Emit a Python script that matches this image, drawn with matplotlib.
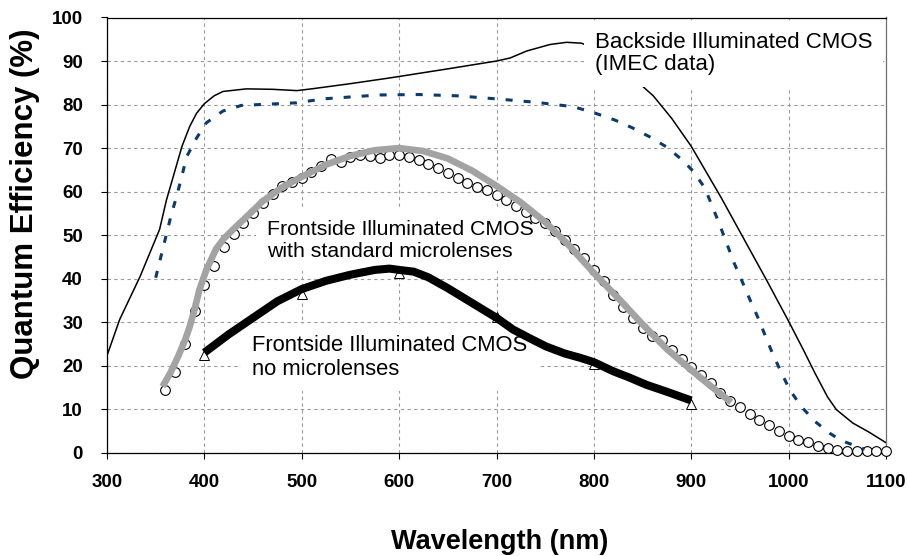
import matplotlib
matplotlib.use("Agg")
import matplotlib.pyplot as plt

plt.rcParams["font.family"] = ["Liberation Sans", "DejaVu Sans"]

# Backside illuminated CMOS (IMEC data), thin black line
bsi_wl = [300, 313, 334, 354, 361, 377, 385, 392, 400, 410, 419, 443, 470, 495, 510,
          550, 590, 650, 700, 714, 731, 755, 772, 787, 810, 830, 851, 861, 880, 900,
          931, 960, 977, 1000, 1015, 1027, 1040, 1049, 1066, 1082, 1100]
bsi_qe = [22.3, 30.6, 40.5, 51.3, 58.0, 70.4, 75.0, 78.0, 80.2, 82.0, 83.0, 83.6, 83.5, 83.2, 83.6,
          84.8, 86.1, 88.2, 90.0, 90.7, 92.3, 93.8, 94.3, 94.1, 92.3, 88.5, 84.0, 82.0, 76.8, 70.4,
          58.5, 46.7, 39.8, 30.2, 23.7, 18.3, 12.8, 9.9, 6.8, 4.8, 2.3]

# dashed navy curve
dash_wl = [350, 366, 372, 382, 392, 402, 419, 438, 476, 495, 522, 560, 580, 620, 660,
           700, 741, 779, 799, 822, 840, 858, 875, 890, 902, 914, 929, 944, 952, 960,
           968, 976, 984, 993, 1001, 1013, 1027, 1042, 1054, 1072, 1078]
dash_qe = [40.2, 54.7, 59.3, 68.1, 72.3, 75.8, 78.5, 79.8, 80.2, 80.4, 81.3, 81.9, 82.2, 82.3, 82.0,
           81.3, 80.5, 79.5, 78.2, 76.4, 74.6, 72.5, 70.2, 67.4, 64.7, 60.8, 52.5, 43.6, 39.5, 35.3,
           31.3, 26.9, 22.5, 18.2, 14.5, 10.6, 7.2, 4.5, 2.8, 1.3, 0.8]

# frontside with standard microlenses: measured points (circles)
fsi_ml_wl = list(range(360, 1101, 10))
fsi_ml_qe = [14.5, 18.5, 25.0, 32.5, 38.5, 43.0, 47.2, 50.3, 52.8, 55.0,
             57.4, 59.5, 61.2, 62.3, 63.2, 64.6, 65.8, 67.6, 66.8, 68.0,
             68.3, 68.2, 67.8, 68.3, 68.5, 68.0, 67.3, 66.4, 65.4, 64.3,
             63.1, 62.0, 61.0, 60.4, 59.3, 58.0, 56.6, 55.2, 54.0, 52.8,
             51.0, 48.8, 46.9, 44.7, 42.0, 39.5, 36.2, 33.5, 31.0, 28.6,
             26.8, 25.8, 23.5, 21.5, 19.8, 17.9, 16.0, 13.7, 11.8, 10.5,
             9.0, 7.6, 6.4, 5.1, 3.8, 3.0, 2.4, 1.5, 1.0, 0.7,
             0.5, 0.5, 0.4, 0.4, 0.4]

# frontside with standard microlenses: smooth gray trend
fsi_ml_fit_wl = [357, 365, 373, 380, 385, 390, 395, 402, 412, 420, 430, 447, 460, 480, 500,
                 525, 550, 575, 600, 625, 650, 675, 700, 725, 750, 775, 800, 825, 850, 875,
                 900, 920, 941]
fsi_ml_fit_qe = [15.2, 18.3, 22.1, 25.8, 29.0, 33.0, 37.5, 42.0, 46.8, 49.2, 51.4, 55.0, 57.8, 61.0, 63.4,
                 66.2, 68.2, 69.5, 70.0, 69.3, 67.6, 64.8, 61.3, 57.5, 53.0, 47.5, 41.3, 35.5, 29.5, 23.8,
                 19.0, 15.3, 11.6]

# frontside without microlenses: measured points (triangles) and thick black trend
fsi_wl = [400, 500, 600, 700, 800, 900]
fsi_qe = [22.5, 36.5, 41.2, 31.2, 20.3, 11.2]
fsi_fit_wl = [400, 425, 450, 475, 500, 525, 550, 575, 590, 600, 615, 630, 650, 675, 700,
              717, 735, 751, 770, 786, 800, 820, 835, 854, 875, 900]
fsi_fit_qe = [23.0, 27.2, 31.0, 34.8, 37.6, 39.5, 40.9, 42.0, 42.3, 42.0, 41.6, 40.3, 37.8, 34.4, 31.0,
              28.3, 26.2, 24.4, 22.8, 21.8, 20.8, 18.7, 17.4, 15.6, 14.0, 12.0]

x_ticks = list(range(300, 1101, 100))
y_ticks = list(range(0, 101, 10))

fig = plt.figure(figsize=(9.07, 5.56), dpi=100)
ax = fig.add_axes([107 / 907, 103.3 / 556, 779 / 907, 435.2 / 556])

ax.plot(bsi_wl, bsi_qe, color="black", lw=1.1, zorder=2)
ax.plot(dash_wl, dash_qe, color="#0b3a6e", lw=2.2, dashes=(2.3, 3.6), zorder=5)
ax.plot(fsi_ml_wl, fsi_ml_qe, ls="none", marker="o", ms=7, mfc="white", mec="black",
        mew=0.8, zorder=3, clip_on=False)
ax.plot(fsi_ml_fit_wl, fsi_ml_fit_qe, color="#a3a3a3", lw=4.8, solid_capstyle="butt",
        solid_joinstyle="round", zorder=4)
ax.plot(fsi_wl, fsi_qe, ls="none", marker="^", ms=7, mfc="white", mec="black",
        mew=0.7, zorder=3)
ax.plot(fsi_fit_wl, fsi_fit_qe, color="black", lw=5.8, solid_capstyle="butt",
        solid_joinstyle="round", zorder=4)

box = dict(boxstyle="square,pad=0.5", facecolor="white", edgecolor="none")
ax.text(801, 96.7, "Backside Illuminated CMOS\n(IMEC data)", fontsize=16, va="top",
        ha="left", linespacing=1.1, bbox=box, zorder=2.2)
ax.text(464, 53.5, "Frontside Illuminated CMOS\nwith standard microlenses", fontsize=15.3,
        va="top", ha="left", linespacing=1.2, bbox=box, zorder=1.5)
ax.text(448.6, 27.0, "Frontside Illuminated CMOS\nno microlenses", fontsize=15.8,
        va="top", ha="left", linespacing=1.2, bbox=box, zorder=1.5)

ax.set_xlim(300, 1100)
ax.set_ylim(0, 100)
ax.set_xticks(x_ticks)
ax.set_yticks(y_ticks)
ax.set_axisbelow(True)
ax.grid(True, color="#9a9a9a", lw=0.8, ls=(0, (3, 3)))

for lbl in ax.get_xticklabels() + ax.get_yticklabels():
    lbl.set_fontweight("bold")
ax.tick_params(axis="x", length=4.3, width=0.8, pad=11, labelsize=13.5)
ax.tick_params(axis="y", length=4.3, width=0.8, pad=13, labelsize=13.5)

ax.spines["left"].set_linewidth(0.9)
ax.spines["bottom"].set_linewidth(0.9)
ax.spines["top"].set_linewidth(0.9)
ax.spines["right"].set_linewidth(0.9)
ax.spines["right"].set_color("#707070")

fig.text(500 / 907, 1 - 542 / 556, "Wavelength (nm)", fontsize=19.5, fontweight="bold",
         ha="center", va="center")
fig.text(25 / 907, 1 - 204 / 556, "Quantum Efficiency (%)", fontsize=22.5, fontweight="bold",
         ha="center", va="center", rotation=90)

fig.savefig("out.png", dpi=100)
